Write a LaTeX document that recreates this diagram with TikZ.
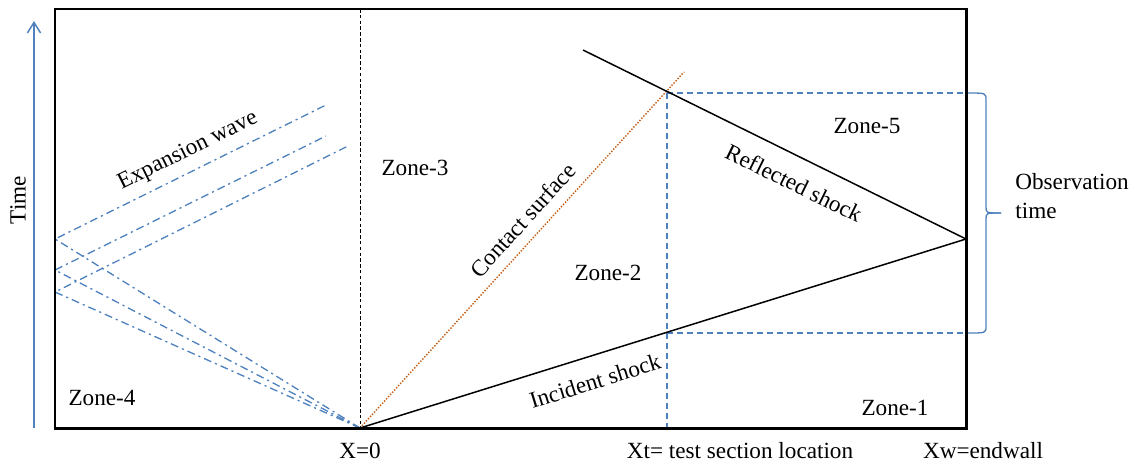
\documentclass[tikz,border=0pt]{standalone}
\usepackage{fontspec}
\setmainfont{Liberation Serif}
\usetikzlibrary{arrows.meta,calc}
\definecolor{wblue}{RGB}{79,129,189}
\definecolor{cbrown}{RGB}{197,90,17}
\tikzset{
  lbl/.style={font=\fontsize{13.2}{16.5}\selectfont,inner sep=0pt},
  expwave/.style={wblue,line width=0.75pt,dash pattern=on 4.5pt off 2.3pt on 1.2pt off 2.3pt},
  obsline/.style={wblue,line width=0.75pt,dash pattern=on 3.4pt off 2.3pt},
  shock/.style={black,line width=0.85pt},
  bracestyle/.style={wblue,line width=0.75pt}
}

\begin{document}
\begin{tikzpicture}[x=0.02cm,y=-0.02cm]
\useasboundingbox (0,0) rectangle (1138,464);
\begin{scope}
  \coordinate (O) at (360,428);
  \coordinate (Xtop) at (360,9);
  \coordinate (R) at (966,239);
  \coordinate (RS) at (583,50);
  \coordinate (CS) at (684,72);
  \coordinate (Ttop) at (667,93);
  \coordinate (Tbot) at (667,333);
  \coordinate (Tfoot) at (667,428);
  \coordinate (B1) at (968,93);
  \coordinate (B2) at (968,333);
  \coordinate (BT) at (1001,213);
  \coordinate (T0) at (34,428);
  \coordinate (T1) at (34,21);
  % time axis
  \draw[wblue,line width=0.85pt,-{Straight Barb[length=6pt,width=7.5pt]}] (T0) -- (T1);
  \node[lbl,rotate=90] (time) at (18,200) {Time};
  % diaphragm
  \draw[black,line width=0.5pt,dash pattern=on 2pt off 1.3pt] (Xtop) -- (O);
  % expansion fan and its reflection
  \foreach[count=\i] \w/\ex/\ey in {239/326/105,270/326/136,292/348/146} {
    \coordinate (w\i) at (55,\w);
    \coordinate (e\i) at (\ex,\ey);
    \draw[expwave] (O) -- (w\i) -- (e\i);
  }
  % test section and observation window
  \draw[obsline] (Ttop) -- (Tfoot);
  \draw[obsline] (Ttop) -- (B1);
  \draw[obsline] (Tbot) -- (B2);
  % shocks and contact surface
  \draw[cbrown,line width=0.8pt,dash pattern=on 0.8pt off 0.9pt] (O) -- (CS);
  \draw[shock] (O) -- (R);
  \draw[shock] (RS) -- (R);
  % tube
  \draw[line width=1.7pt] (55,9) rectangle (966,428);
  % brace
  \draw[bracestyle] (B1) .. controls (986,93) .. (986,100) -- (986,207)
    .. controls (986,213) .. (BT);
  \draw[bracestyle] (B2) .. controls (986,333) .. (986,326) -- (986,219)
    .. controls (986,213) .. (BT);
  \node[lbl,anchor=west,align=left] (obs) at (1015,196) {Observation\\time};
  % labels
  \node[lbl,rotate=26.3] (ew) at (188,151) {Expansion wave};
  \node[lbl,rotate=47.7] (cs) at (523,220) {Contact surface};
  \node[lbl,rotate=-26.1] (rs) at (794,183) {Reflected shock};
  \node[lbl,rotate=17.3] (is) at (595,381) {Incident shock};
  \node[lbl] (z1) at (895,408) {Zone-1};
  \node[lbl] (z2) at (608,273) {Zone-2};
  \node[lbl] (z3) at (415,168) {Zone-3};
  \node[lbl] (z4) at (102,398) {Zone-4};
  \node[lbl] (z5) at (867,126) {Zone-5};
  \node[lbl] (x0) at (360,451) {X=0};
  \node[lbl] (xt) at (740,451) {Xt= test section location};
  \node[lbl] (xw) at (983,451) {Xw=endwall};
\end{scope}
\end{tikzpicture}
\end{document}
